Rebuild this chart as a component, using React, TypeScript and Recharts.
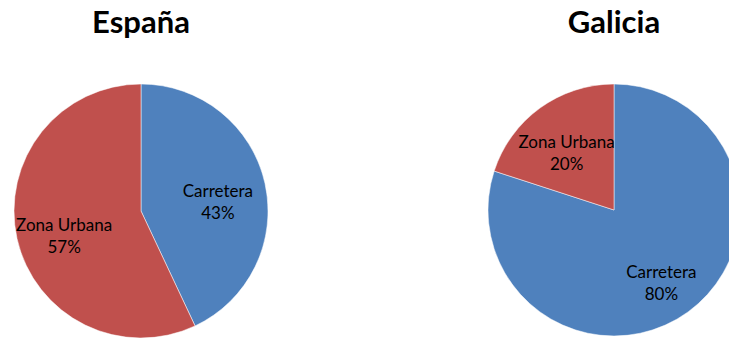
import { PieChart, Pie, Cell } from 'recharts'

const categories = ['Carretera', 'Zona Urbana']
const espanaValues = [43, 57]
const galiciaValues = [80, 20]
const titles = ['España', 'Galicia']
const colors = ['#4F81BD', '#C0504D']

const RADIAN = Math.PI / 180

// label block centred on a point at `fraction` of the radius, nudged down a little like Excel does
function makeLabel(fraction: number) {
  return (props: any) => {
    const { cx, cy, midAngle, outerRadius, payload } = props
    const r = outerRadius * fraction
    const x = cx + r * Math.cos(-midAngle * RADIAN)
    const y = cy + r * Math.sin(-midAngle * RADIAN) + 7
    return (
      <text
        x={x}
        y={y}
        textAnchor="middle"
        fill="#000"
        fontFamily="Lato, sans-serif"
        fontSize={17}
      >
        <tspan x={x} dy={-4}>{payload.name}</tspan>
        <tspan x={x} dy={22}>{`${payload.value}%`}</tspan>
      </text>
    )
  }
}

export default function App() {
  const espana = categories.map((name, i) => ({ name, value: espanaValues[i] }))
  const galicia = categories.map((name, i) => ({ name, value: galiciaValues[i] }))

  const titleStyle = {
    position: 'absolute' as const,
    top: 2,
    width: 200,
    textAlign: 'center' as const,
    fontFamily: 'Lato, sans-serif',
    fontWeight: 700,
    fontSize: 31,
    color: '#000',
  }

  return (
    <div style={{ position: 'absolute', left: 0, top: 0, width: 729, height: 338, overflow: 'hidden', background: '#fff' }}>
      <div style={{ ...titleStyle, left: 141 - 100 }}>{titles[0]}</div>
      <div style={{ ...titleStyle, left: 614 - 100 }}>{titles[1]}</div>
      <PieChart
        width={729}
        height={338}
        margin={{ top: 0, right: 0, bottom: 0, left: 0 }}
        style={{ position: 'absolute', left: 0, top: 0 }}
      >
        <Pie
          data={espana}
          dataKey="value"
          nameKey="name"
          cx={141}
          cy={211}
          outerRadius={127}
          startAngle={90}
          endAngle={-270}
          stroke="#fff"
          strokeWidth={0.5}
          labelLine={false}
          label={makeLabel(0.62)}
          isAnimationActive={false}
        >
          {espana.map((d, i) => (
            <Cell key={d.name} fill={colors[i]} />
          ))}
        </Pie>
        <Pie
          data={galicia}
          dataKey="value"
          nameKey="name"
          cx={614}
          cy={210}
          outerRadius={126}
          startAngle={90}
          endAngle={-270}
          stroke="#fff"
          strokeWidth={0.5}
          labelLine={false}
          label={makeLabel(0.64)}
          isAnimationActive={false}
        >
          {galicia.map((d, i) => (
            <Cell key={d.name} fill={colors[i]} />
          ))}
        </Pie>
      </PieChart>
    </div>
  )
}
